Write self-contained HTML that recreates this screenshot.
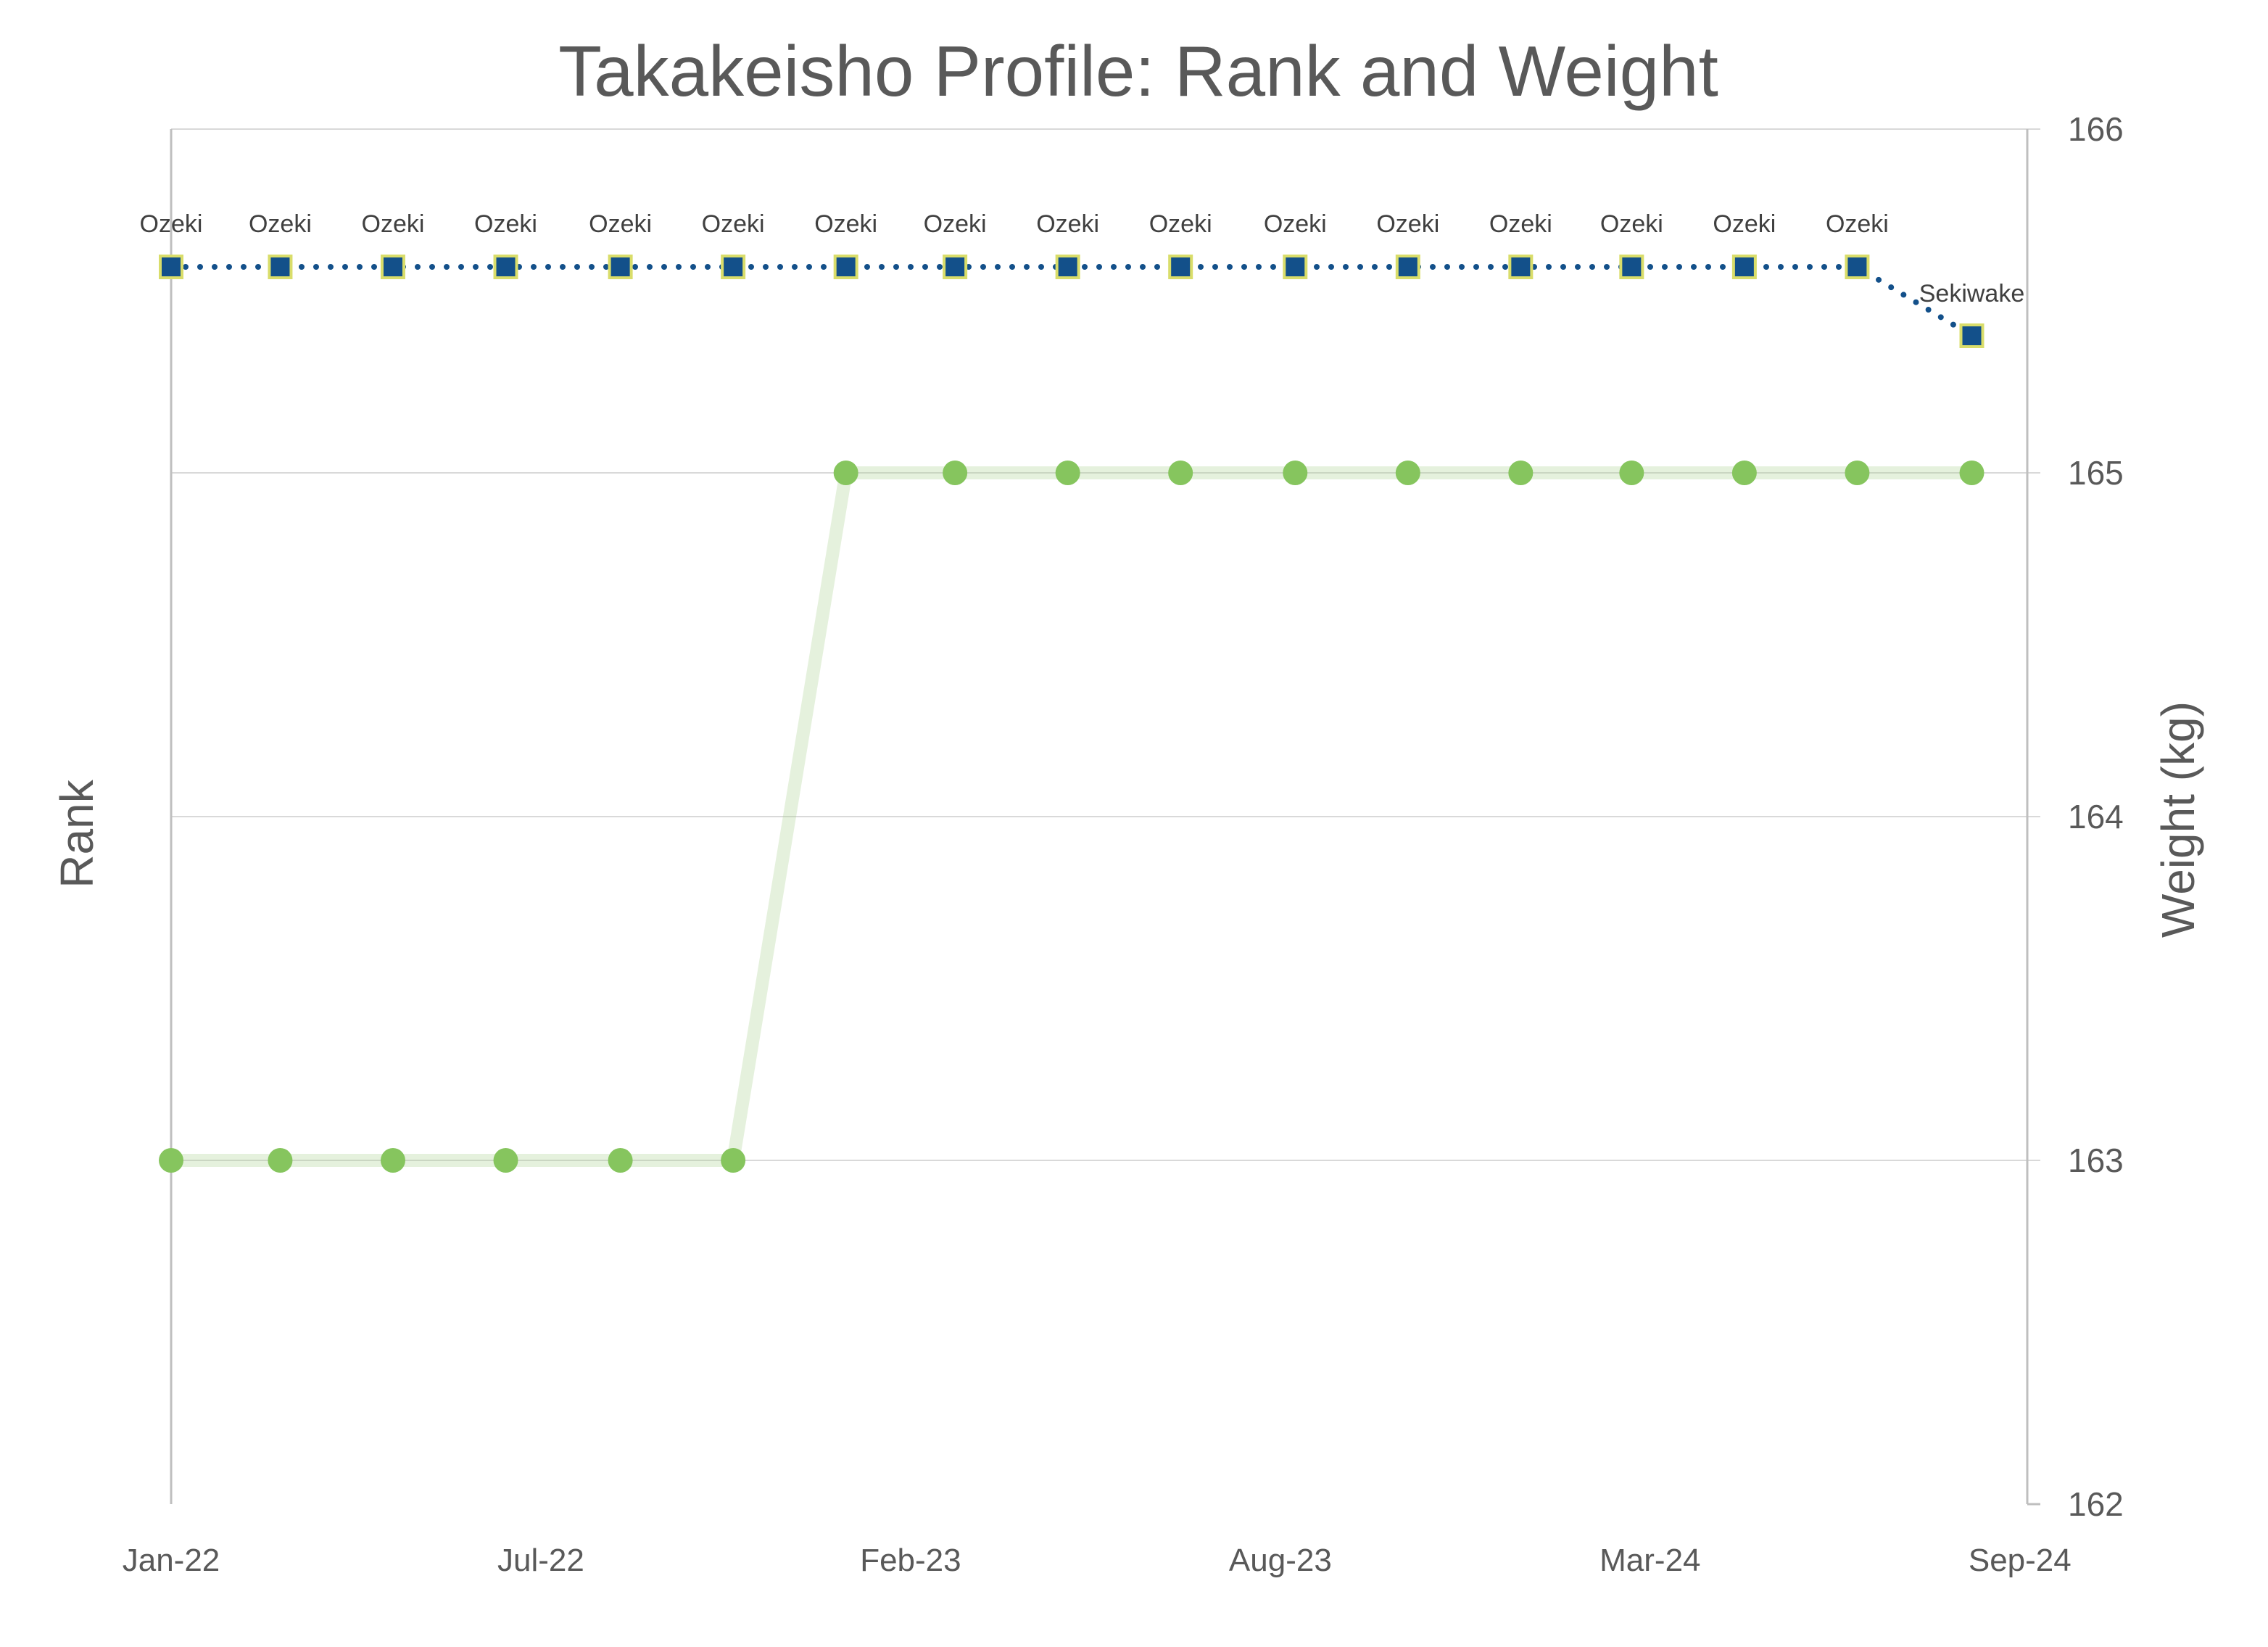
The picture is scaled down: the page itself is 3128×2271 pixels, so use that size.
<!DOCTYPE html>
<html><head><meta charset="utf-8"><style>
html,body{margin:0;padding:0;background:#fff;}
svg{display:block;font-family:"Liberation Sans",sans-serif;}
</style></head><body>
<svg id="chart" width="3128" height="2271" viewBox="0 0 3128 2271">
<rect width="3128" height="2271" fill="#fff"/>
<text x="1570" y="132" text-anchor="middle" font-size="98" fill="#595959">Takakeisho Profile: Rank and Weight</text>
<text transform="translate(128,1150) rotate(-90)" text-anchor="middle" font-size="64" fill="#595959">Rank</text>
<text transform="translate(3026,1130) rotate(-90)" text-anchor="middle" font-size="64" fill="#595959">Weight (kg)</text>
<g id="grid"></g><g id="axes"></g><g id="weight"></g><g id="rank"></g>
</svg>
<script>
const dates = ["2022-01-01","2022-03-01","2022-05-01","2022-07-01","2022-09-01","2022-11-01","2023-01-01","2023-03-01","2023-05-01","2023-07-01","2023-09-01","2023-11-01","2024-01-01","2024-03-01","2024-05-01","2024-07-01","2024-09-01"];
const weights = [163,163,163,163,163,163,165,165,165,165,165,165,165,165,165,165,165];
const ranks = ["Ozeki","Ozeki","Ozeki","Ozeki","Ozeki","Ozeki","Ozeki","Ozeki","Ozeki","Ozeki","Ozeki","Ozeki","Ozeki","Ozeki","Ozeki","Ozeki","Sekiwake"];
const rankValues = {"Ozeki":2,"Sekiwake":1};
const weightTicks = [162,163,164,165,166];
const xTickDays = [0,200,400,600,800,1000];
const xTickLabels = ["Jan-22","Jul-22","Feb-23","Aug-23","Mar-24","Sep-24"];

const NS="http://www.w3.org/2000/svg";
const L=236,R=2796,T=178,B=2074;
const day0=Date.UTC(2022,0,1), xMax=1004;
function days(s){const p=s.split("-");return (Date.UTC(+p[0],+p[1]-1,+p[2])-day0)/86400000;}
function x(d){return L+d/xMax*(R-L);}
function yW(w){return B-(w-162)/(166-162)*(B-T);}
function yR(r){return 368+(2-r)*95;}
function mk(tag,attrs,parent){const e=document.createElementNS(NS,tag);for(const k in attrs)e.setAttribute(k,attrs[k]);document.getElementById(parent).appendChild(e);return e;}

weightTicks.forEach(w=>{
  if(w>162){const g=mk("line",{x1:L,x2:R+18,y1:yW(w),y2:yW(w),stroke:"#d9d9d9","stroke-width":2},"grid");
  
  }
  const t=mk("text",{x:2852,y:yW(w)+16,"font-size":46,fill:"#595959"},"axes");
  t.textContent=w;
  
  
});
const la=mk("line",{x1:L,x2:L,y1:T,y2:B,stroke:"#bfbfbf","stroke-width":3},"axes");


const ra=mk("line",{x1:R,x2:R,y1:T,y2:B,stroke:"#bfbfbf","stroke-width":3},"axes");


const bt=mk("line",{x1:R,x2:R+18,y1:B,y2:B,stroke:"#bfbfbf","stroke-width":3},"axes");


xTickDays.forEach((d,i)=>{
  const t=mk("text",{x:x(d),y:2166,"font-size":44,fill:"#595959","text-anchor":"middle"},"axes");
  t.textContent=xTickLabels[i];
  
  
});

const wpts=dates.map((d,i)=>x(days(d))+","+yW(weights[i])).join(" ");
const wl=mk("polyline",{points:wpts,fill:"none",stroke:"#a9d08e","stroke-opacity":0.3,"stroke-width":18},"weight");


dates.forEach((d,i)=>{
  const c=mk("circle",{cx:x(days(d)),cy:yW(weights[i]),r:17,fill:"#86c55e"},"weight");
  
  
});

const rpts=dates.map((d,i)=>x(days(d))+","+yR(rankValues[ranks[i]])).join(" ");
const rl=mk("polyline",{points:rpts,fill:"none",stroke:"#13508a","stroke-width":8,"stroke-dasharray":"0 20","stroke-linecap":"round"},"rank");


dates.forEach((d,i)=>{
  const cx=x(days(d)),cy=yR(rankValues[ranks[i]]);
  const s=mk("rect",{x:cx-15,y:cy-15,width:30,height:30,fill:"#13508a",stroke:"#d9dd6a","stroke-width":4},"rank");
  
  
  const last=ranks[i]==="Sekiwake";
  const t=mk("text",{x:cx,y:last?cy-47:cy-48,"font-size":34,fill:"#404040","text-anchor":"middle"},"rank");
  t.textContent=ranks[i];
  
  
});
</script>
</body></html>
